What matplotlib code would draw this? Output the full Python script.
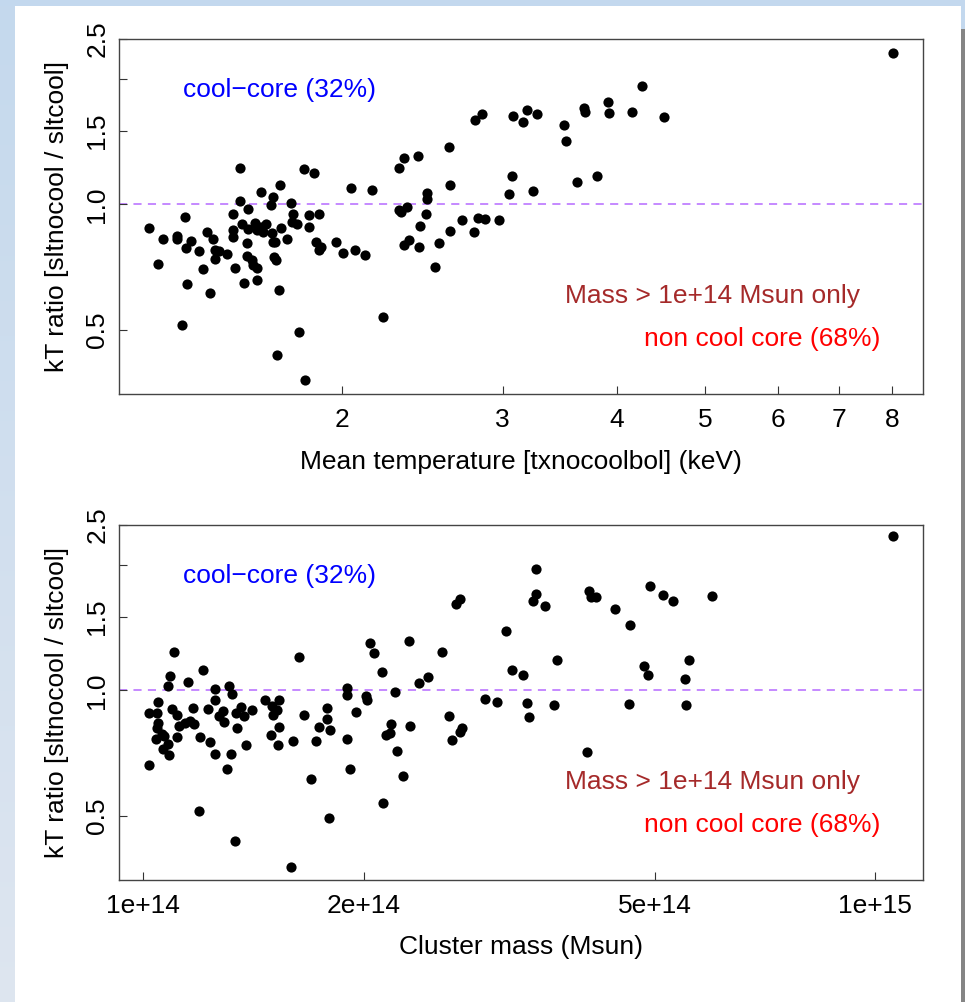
import numpy as np
import matplotlib
matplotlib.use("Agg")
from matplotlib import pyplot as plt
from matplotlib.patches import Rectangle

plt.rcParams['font.family'] = ['Liberation Sans', 'DejaVu Sans']

# Panel 1: mean temperature (keV) vs kT ratio
temp = [1.231, 1.261, 1.275, 1.322, 1.323, 1.337, 1.350, 1.352, 1.354, 1.368,
        1.398, 1.410, 1.427, 1.436, 1.448, 1.453, 1.456, 1.468, 1.498, 1.521,
        1.521, 1.523, 1.530, 1.549, 1.549, 1.556, 1.565, 1.577, 1.577, 1.582,
        1.582, 1.595, 1.602, 1.610, 1.616, 1.616, 1.618, 1.632, 1.635, 1.643,
        1.653, 1.678, 1.676, 1.685, 1.685, 1.688, 1.695, 1.692, 1.709, 1.715,
        1.718, 1.700, 1.744, 1.762, 1.769, 1.764, 1.787, 1.796, 1.821, 1.823,
        1.841, 1.845, 1.866, 1.876, 1.888, 1.892, 1.898, 1.973, 2.008, 2.047,
        2.069, 2.124, 2.158, 2.219, 2.312, 2.312, 2.323, 2.339, 2.341, 2.357,
        2.373, 2.427, 2.433, 2.439, 2.474, 2.483, 2.483, 2.531, 2.557, 2.624,
        2.631, 2.631, 2.711, 2.795, 2.799, 2.821, 2.852, 2.873, 2.974, 3.047,
        3.075, 3.083, 3.162, 3.188, 3.269, 3.242, 3.499, 3.520, 3.616, 3.683,
        3.696, 3.809, 3.909, 3.923, 4.153, 4.266, 4.505, 8.026]
ratio_t = [0.878, 0.720, 0.828, 0.840, 0.825, 0.512, 0.934, 0.785, 0.645, 0.816,
           0.771, 0.698, 0.859, 0.612, 0.827, 0.776, 0.738, 0.771, 0.761, 0.947,
           0.870, 0.836, 0.703, 1.224, 1.017, 0.899, 0.646, 0.807, 0.753, 0.977,
           0.871, 0.735, 0.715, 0.904, 0.870, 0.702, 0.657, 1.074, 0.883, 0.859,
           0.896, 0.854, 0.995, 1.041, 0.811, 0.748, 0.735, 0.814, 0.621, 1.114,
           0.878, 0.435, 0.825, 1.007, 0.947, 0.906, 0.899, 0.493, 1.217, 0.378,
           0.881, 0.941, 1.190, 0.813, 0.947, 0.776, 0.789, 0.814, 0.764, 1.098,
           0.778, 0.754, 1.082, 0.535, 1.226, 0.968, 0.957, 1.293, 0.801, 0.985,
           0.820, 1.307, 0.789, 0.889, 0.948, 1.068, 1.030, 0.708, 0.808, 1.376,
           1.112, 0.862, 0.919, 0.859, 1.596, 0.929, 1.647, 0.923, 0.919, 1.059,
           1.171, 1.629, 1.582, 1.684, 1.653, 1.080, 1.556, 1.422, 1.135, 1.702,
           1.671, 1.171, 1.759, 1.656, 1.671, 1.931, 1.623, 2.312]

# Panel 2: cluster mass (1e14 Msun) vs kT ratio
mass_e14 = [1.018, 1.018, 1.043, 1.048, 1.048, 1.043, 1.041, 1.059, 1.067, 1.063,
            1.081, 1.084, 1.079, 1.088, 1.093, 1.101, 1.113, 1.117, 1.110, 1.140,
            1.150, 1.158, 1.169, 1.173, 1.190, 1.195, 1.205, 1.227, 1.233, 1.251,
            1.254, 1.254, 1.267, 1.283, 1.289, 1.300, 1.308, 1.322, 1.319, 1.333,
            1.341, 1.338, 1.361, 1.373, 1.381, 1.406, 1.465, 1.494, 1.497, 1.505,
            1.521, 1.531, 1.526, 1.532, 1.591, 1.602, 1.630, 1.656, 1.695, 1.722,
            1.740, 1.781, 1.784, 1.792, 1.798, 1.896, 1.896, 1.900, 1.916, 1.953,
            2.015, 2.018, 2.041, 2.067, 2.117, 2.126, 2.148, 2.180, 2.173, 2.205,
            2.222, 2.267, 2.312, 2.310, 2.381, 2.452, 2.557, 2.620, 2.642, 2.675,
            2.709, 2.706, 2.729, 2.928, 3.043, 3.127, 3.190, 3.303, 3.341, 3.362,
            3.441, 3.437, 3.408, 3.543, 3.672, 3.641, 4.045, 4.066, 4.088, 4.161,
            4.413, 4.630, 4.611, 4.834, 4.895, 4.926, 5.132, 5.302, 5.500, 5.564,
            5.511, 5.985, 10.594]
ratio_m = [0.660, 0.885, 0.885, 0.939, 0.833, 0.810, 0.766, 0.784, 0.779, 0.724,
           0.743, 0.700, 1.024, 1.085, 0.903, 1.235, 0.874, 0.819, 0.773, 0.836,
           1.047, 0.842, 0.905, 0.831, 0.512, 0.771, 1.119, 0.900, 0.751, 1.006,
           0.950, 0.704, 0.867, 0.892, 0.839, 0.648, 1.026, 0.982, 0.705, 0.434,
           0.810, 0.883, 0.912, 0.867, 0.740, 0.895, 0.946, 0.781, 0.920, 0.875,
           0.897, 0.946, 0.740, 0.817, 0.377, 0.755, 1.201, 0.875, 0.614, 0.755,
           0.817, 0.856, 0.905, 0.493, 0.805, 0.766, 1.015, 0.974, 0.649, 0.887,
           0.969, 0.951, 1.303, 1.228, 1.107, 0.535, 0.781, 0.831, 0.789, 0.991,
           0.714, 0.622, 0.823, 1.318, 1.040, 1.077, 1.237, 0.867, 0.758, 1.618,
           1.663, 0.794, 0.813, 0.955, 0.936, 1.390, 1.122, 1.091, 0.934, 0.864,
           1.957, 1.704, 1.645, 1.597, 1.183, 0.924, 0.712, 1.732, 1.676, 1.676,
           1.573, 1.437, 0.930, 1.145, 1.089, 1.781, 1.694, 1.642, 1.065, 1.181,
           0.925, 1.691, 2.346]

mass = np.array(mass_e14) * 1e14

yticks = [0.5, 1.0, 1.5, 2.0, 2.5]
yticklabels = ['0.5', '1.0', '1.5', '', '2.5']
tticks = [2, 3, 4, 5, 6, 7, 8]
mticks = [1e14, 2e14, 5e14, 1e15]
mticklabels = ['1e+14', '2e+14', '5e+14', '1e+15']

fs = 19
W, H = 965, 1002
fig = plt.figure(figsize=(W / 100, H / 100), dpi=100)

# slide-like frame around the plot
bg = fig.add_axes([0, 0, 1, 1], zorder=-10)
bg.set_xlim(0, W)
bg.set_ylim(H, 0)
bg.axis('off')
grad = np.linspace(0, 1, 200)[:, None, None]
top_c = np.array([0.77, 0.85, 0.93])
bot_c = np.array([0.87, 0.90, 0.94])
bg.imshow(top_c + (bot_c - top_c) * grad, extent=(0, 15, H, 0), aspect='auto')
bg.add_patch(Rectangle((0, 0), W, 6, color='#c3d8ee', lw=0))
bg.add_patch(Rectangle((961, 0), 4, 29, color='#c3d8ee', lw=0))
bg.add_patch(Rectangle((961, 29), 4, H - 29, color='#858585', lw=0))


def panel(rect, x, y, xlim, xticks, xticklabels, xlabel, xlab_y):
    ax = fig.add_axes(rect)
    ax.set_xscale('log')
    ax.set_yscale('log')
    ax.axhline(1.0, color='#c080ff', lw=1.3, dashes=(4.5, 3.5), zorder=1)
    ax.scatter(x, y, s=54, color='black', lw=0, zorder=3)
    ax.set_xlim(*xlim)
    ax.set_ylim(0.35, 2.5)
    ax.minorticks_off()
    ax.set_xticks(xticks)
    ax.set_xticklabels(xticklabels)
    ax.set_yticks(yticks)
    ax.set_yticklabels(yticklabels, rotation=90, va='center')
    ax.tick_params(direction='in', length=6, width=0.8, color='#333333',
                   labelsize=fs, pad=7)
    ax.tick_params(axis='x', pad=10)
    for s in ax.spines.values():
        s.set_color('#444444')
        s.set_linewidth(1.0)
    ax.set_xlabel(xlabel, fontsize=fs, va='center')
    ax.xaxis.set_label_coords(0.5, xlab_y)
    ax.set_ylabel('kT ratio [sltnocool / sltcool]', fontsize=fs, va='center')
    ax.yaxis.set_label_coords(-0.077, 0.5)
    ax.text(0.200, 0.856, 'cool\u2212core (32%)', color='#0000ff', fontsize=fs,
            ha='center', va='center', transform=ax.transAxes)
    ax.text(0.738, 0.276, 'Mass > 1e+14 Msun only', color='#a52a2a', fontsize=fs,
            ha='center', va='center', transform=ax.transAxes)
    ax.text(0.800, 0.155, 'non cool core (68%)', color='#ff0000', fontsize=fs,
            ha='center', va='center', transform=ax.transAxes)
    return ax


panel([119 / W, 1 - 394 / H, 804 / W, 355 / H], temp, ratio_t, (1.142, 8.65),
      tticks, [str(t) for t in tticks], 'Mean temperature [txnocoolbol] (keV)', -0.1915)
panel([119 / W, 1 - 880 / H, 804 / W, 355 / H], mass, ratio_m, (9.26e13, 1.163e15),
      mticks, mticklabels, 'Cluster mass (Msun)', -0.1887)

fig.savefig('out.png', dpi=100)
